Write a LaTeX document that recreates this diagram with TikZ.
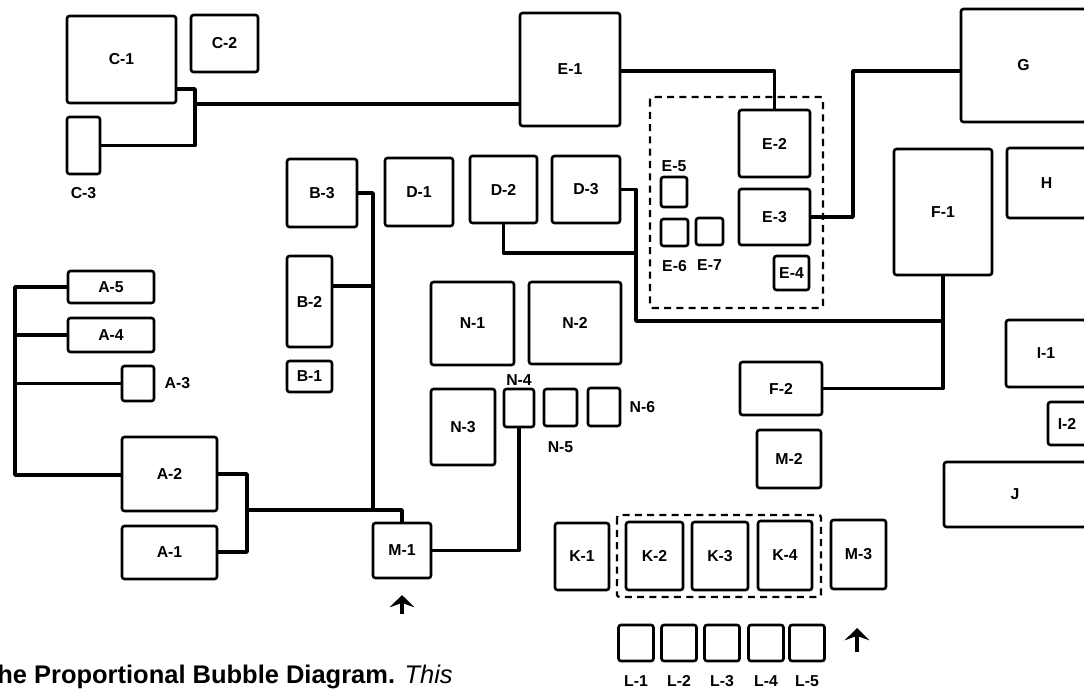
\documentclass[tikz,border=0pt]{standalone}
\usepackage{fontspec}
\setmainfont{Liberation Sans}
\usepackage{tikz}
\usetikzlibrary{arrows.meta,positioning}

\begin{document}
\begin{tikzpicture}[x=0.02cm, y=-0.02cm,
  room/.style={draw, line width=1.5pt, rounded corners=0.05cm, inner sep=0pt, font=\fontsize{9}{10}\selectfont\bfseries},
  tag/.style={inner sep=0pt, font=\fontsize{9}{10}\selectfont\bfseries},
  link/.style={line width=2pt, line join=round},
  zone/.style={line width=1.3pt, dash pattern=on 4pt off 3pt, rounded corners=0.05cm},
  entry/.style={line width=2pt, -{Stealth[length=7pt,width=14pt,inset=2.5pt]}}]
\useasboundingbox (0,0) rectangle (1084,690);

\node[room, minimum width=2.18cm, minimum height=1.74cm] (c1) at (121.5,59.5) {C-1};
\node[room, minimum width=1.34cm, minimum height=1.14cm] (c2) at (224.5,43.5) {C-2};
\node[room, minimum width=0.66cm, minimum height=1.14cm] (c3) at (83.5,145.5) {};
\node[tag, below=0.24cm of c3] (c3tag) {C-3};

\node[room, minimum width=2.00cm, minimum height=2.26cm] (e1) at (570,69.5) {E-1};
\node[room, minimum width=2.50cm, minimum height=2.26cm] (g) at (1023.5,65.5) {G};
\node[room, minimum width=1.42cm, minimum height=1.34cm] (e2) at (774.5,143.5) {E-2};
\node[room, minimum width=1.42cm, minimum height=1.12cm] (e3) at (774.5,217) {E-3};
\node[room, minimum width=0.70cm, minimum height=0.68cm] (e4) at (791.5,273) {E-4};
\node[room, minimum width=0.52cm, minimum height=0.60cm] (e5) at (674,192) {};
\node[room, minimum width=0.54cm, minimum height=0.54cm] (e6) at (674.5,232.5) {};
\node[room, minimum width=0.54cm, minimum height=0.54cm] (e7) at (709.5,231.5) {};
\node[tag, above=0.08cm of e5] (e5tag) {E-5};
\node[tag, below=0.26cm of e6] (e6tag) {E-6};
\node[tag, below=0.26cm of e7] (e7tag) {E-7};
\draw[zone] (650,97) rectangle (823,308);

\node[room, minimum width=1.96cm, minimum height=2.52cm] (f1) at (943,212) {F-1};
\node[room, minimum width=1.58cm, minimum height=1.40cm] (h) at (1046.5,183) {H};
\node[room, minimum width=1.64cm, minimum height=1.06cm] (f2) at (781,388.5) {F-2};
\node[room, minimum width=1.28cm, minimum height=1.16cm] (m2) at (789,459) {M-2};
\node[room, minimum width=1.60cm, minimum height=1.34cm] (i1) at (1046,353.5) {I-1};
\node[room, minimum width=0.76cm, minimum height=0.86cm] (i2) at (1067,423.5) {I-2};
\node[room, minimum width=2.84cm, minimum height=1.30cm] (j) at (1015,494.5) {J};

\node[room, minimum width=1.36cm, minimum height=1.36cm] (d1) at (419,192) {D-1};
\node[room, minimum width=1.34cm, minimum height=1.34cm] (d2) at (503.5,189.5) {D-2};
\node[room, minimum width=1.36cm, minimum height=1.34cm] (d3) at (586,189.5) {D-3};

\node[room, minimum width=1.40cm, minimum height=1.36cm] (b3) at (322,193) {B-3};
\node[room, minimum width=0.90cm, minimum height=1.82cm] (b2) at (309.5,301.5) {B-2};
\node[room, minimum width=0.90cm, minimum height=0.62cm] (b1) at (309.5,376.5) {B-1};

\node[room, minimum width=1.72cm, minimum height=0.64cm] (a5) at (111,287) {A-5};
\node[room, minimum width=1.72cm, minimum height=0.68cm] (a4) at (111,335) {A-4};
\node[room, minimum width=0.64cm, minimum height=0.70cm] (a3) at (138,383.5) {};
\node[tag, right=0.18cm of a3] (a3tag) {A-3};
\node[room, minimum width=1.90cm, minimum height=1.48cm] (a2) at (169.5,474) {A-2};
\node[room, minimum width=1.90cm, minimum height=1.06cm] (a1) at (169.5,552.5) {A-1};
\node[room, minimum width=1.16cm, minimum height=1.10cm] (m1) at (402,550.5) {M-1};

\node[room, minimum width=1.66cm, minimum height=1.66cm] (n1) at (472.5,323.5) {N-1};
\node[room, minimum width=1.84cm, minimum height=1.64cm] (n2) at (575,323) {N-2};
\node[room, minimum width=1.28cm, minimum height=1.52cm] (n3) at (463,427) {N-3};
\node[room, minimum width=0.60cm, minimum height=0.76cm] (n4) at (519,408) {};
\node[room, minimum width=0.66cm, minimum height=0.74cm] (n5) at (560.5,407.5) {};
\node[room, minimum width=0.64cm, minimum height=0.76cm] (n6) at (604,407) {};
\node[tag, above=0.04cm of n4] (n4tag) {N-4};
\node[tag, below=0.28cm of n5] (n5tag) {N-5};
\node[tag, right=0.16cm of n6] (n6tag) {N-6};

\node[room, minimum width=1.08cm, minimum height=1.34cm] (k1) at (582,556.5) {K-1};
\node[room, minimum width=1.14cm, minimum height=1.36cm] (k2) at (654.5,556) {K-2};
\node[room, minimum width=1.12cm, minimum height=1.36cm] (k3) at (720,556) {K-3};
\node[room, minimum width=1.08cm, minimum height=1.38cm] (k4) at (785,555.5) {K-4};
\node[room, minimum width=1.10cm, minimum height=1.38cm] (m3) at (858.5,554.5) {M-3};
\draw[zone] (617,515) rectangle (821,597);

\foreach \i/\x in {1/636,2/679,3/722,4/766,5/807} {
  \node[room, minimum width=0.70cm, minimum height=0.72cm] (l\i) at (\x,643) {};
  \node[tag, below=0.26cm of l\i] (l\i tag) {L-\i};
}

\coordinate (cjoin) at (195,104);
\draw[link] (c1.east |- 0,89) -| (cjoin) |- (c3.east);
\draw[link] (cjoin) -- (e1.west |- cjoin);
\draw[link] (e1.east |- 0,71) -| (e2.north);
\draw[link] (e3.east) -| (853,71) -- (g.west |- 0,71);
\draw[link] (f1.south) |- (f2.east);
\draw[link] (d3.east) -| (636,321) -- (f1.south |- 0,321);
\draw[link] (d2.south) |- (636,253);
\draw[link] (b3.east) -| (373,510);
\draw[link] (b2.east |- 0,286) -- (373,286);
\draw[link] (a2.east) -| (247,552) -- (a1.east |- 0,552);
\draw[link] (247,510) -| (m1.north);
\draw[link] (a5.west) -| (15,475) -- (a2.west |- 0,475);
\draw[link] (a4.west) -- (15,0 |- a4.west);
\draw[link] (a3.west) -- (15,0 |- a3.west);
\draw[link] (m1.east) -| (n4.south);

\coordinate (door1) at (402,614);
\coordinate (door2) at (857,652);
\draw[entry] (door1) -- ++(0,-19);
\draw[entry] (door2) -- ++(0,-24);

\node[anchor=base west, inner sep=0pt, font=\fontsize{14.5}{16}\selectfont\bfseries] (caption) at (-3,683) {he Proportional Bubble Diagram. {\mdseries\itshape This}};
\end{tikzpicture}
\end{document}
